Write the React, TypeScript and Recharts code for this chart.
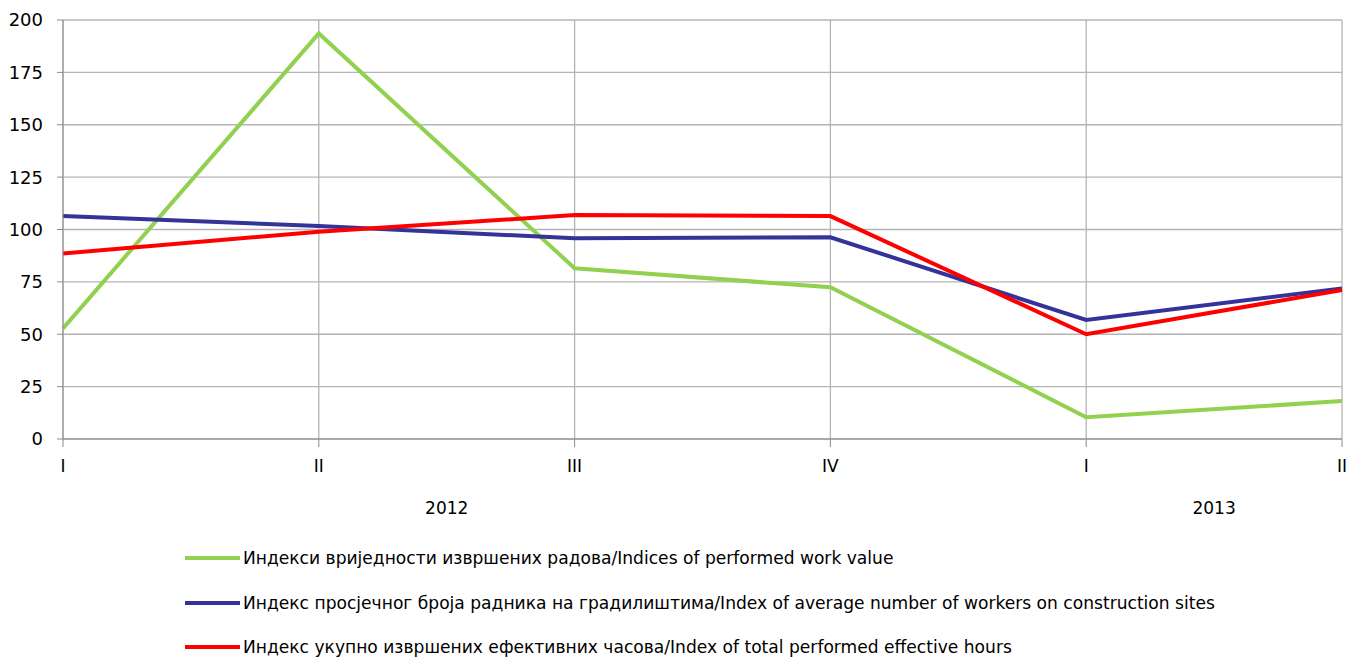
import { LineChart, Line, XAxis, YAxis, CartesianGrid, Legend } from 'recharts';

const quarters = ['I', 'II', 'III', 'IV', 'I', 'II'];
const workValue = [52.8, 193.6, 81.5, 72.4, 10.4, 18.1];
const workers = [106.4, 101.7, 95.8, 96.3, 56.8, 71.9];
const hours = [88.6, 98.9, 106.9, 106.4, 50.0, 71.1];
const yTicks = [0, 25, 50, 75, 100, 125, 150, 175, 200];
const yearTicks = [1.5, 4.5];
const yearNames = ['2012', '2013'];

const series = [
  { key: 'work', name: 'Индекси вриједности извршених радова/Indices of performed work value', color: '#92d050' },
  { key: 'workers', name: 'Индекс просјечног броја радника на градилиштима/Index of average number of workers on construction sites', color: '#333399' },
  { key: 'hours', name: 'Индекс укупно извршених ефективних часова/Index of total performed effective hours', color: '#ff0000' },
];

const data = quarters.map((q, i) => ({
  idx: i,
  quarter: q,
  work: workValue[i],
  workers: workers[i],
  hours: hours[i],
}));

const FONT = '"DejaVu Sans", sans-serif';

function LegendBox() {
  return (
    <div style={{ height: 120, paddingLeft: 185, paddingTop: 4, boxSizing: 'border-box', fontFamily: FONT, fontSize: 17.1, color: '#000' }}>
      {series.map(s => (
        <div key={s.key} style={{ display: 'flex', alignItems: 'center', height: 44.5, whiteSpace: 'nowrap' }}>
          <span style={{ display: 'inline-block', width: 55, height: 4, background: s.color, marginRight: 3 }} />
          <span>{s.name}</span>
        </div>
      ))}
    </div>
  );
}

export default function App() {
  return (
    <div style={{ position: 'absolute', left: 0, top: 0 }}>
      <LineChart width={1359} height={659} data={data} margin={{ top: 20, right: 17, left: 0, bottom: 7 }}>
        <CartesianGrid stroke="#b4b4b4" strokeWidth={1.3} />
        <XAxis
          dataKey="quarter"
          allowDuplicatedCategory
          height={63}
          tickSize={8}
          tickMargin={13}
          stroke="#8c8c8c"
          tick={{ fontSize: 17, fill: '#000', fontFamily: FONT }}
          interval={0}
        />
        <XAxis
          xAxisId="year"
          dataKey="idx"
          type="number"
          domain={[0, 5]}
          ticks={yearTicks}
          tickFormatter={(v: number) => (v < 3 ? yearNames[0] : yearNames[1])}
          height={30}
          axisLine={false}
          tickLine={false}
          tickSize={0}
          tickMargin={0}
          tick={{ fontSize: 17, fill: '#000', fontFamily: FONT }}
        />
        <YAxis
          domain={[0, 200]}
          ticks={yTicks}
          width={63}
          tickSize={6}
          tickMargin={14}
          stroke="#8c8c8c"
          tick={{ fontSize: 18, fill: '#000', fontFamily: FONT }}
          interval={0}
        />
        <Legend verticalAlign="bottom" align="left" content={() => <LegendBox />} />
        {series.map(s => (
          <Line
            key={s.key}
            dataKey={s.key}
            name={s.name}
            stroke={s.color}
            strokeWidth={4}
            dot={false}
            activeDot={false}
            isAnimationActive={false}
          />
        ))}
      </LineChart>
    </div>
  );
}
